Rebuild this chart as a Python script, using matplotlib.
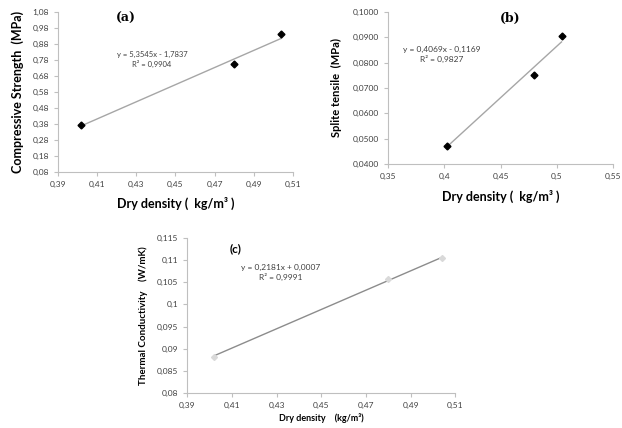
import numpy as np
import matplotlib.pyplot as plt

plt.rcParams['font.family'] = ['Lato', 'DejaVu Sans']

# dry density shared by the three tests
density = [0.402, 0.480, 0.504]

# (a) compressive strength
comp = [0.375, 0.755, 0.940]
comp_fit = (5.3545, -1.7837)
# (b) split tensile
tens = [0.0472, 0.0752, 0.0905]
tens_fit = (0.4069, -0.1169)
# (c) thermal conductivity
cond = [0.0880, 0.1058, 0.1105]
cond_fit = (0.2181, 0.0007)

axis_col = '#bfbfbf'
tick_col = '#404040'


def style(ax):
    for s in ['top', 'right']:
        ax.spines[s].set_visible(False)
    for s in ['left', 'bottom']:
        ax.spines[s].set_color(axis_col)
        ax.spines[s].set_linewidth(0.8)
    ax.tick_params(colors=axis_col, labelcolor=tick_col, labelsize=6, length=3, width=0.8)


def comma(fmt):
    return lambda v, p: (fmt % v).replace('.', ',')


fig = plt.figure(figsize=(6.22, 4.28), dpi=100)

# panel a
ax1 = fig.add_axes([0.093, 0.598, 0.378, 0.374])
xs = np.array([density[0], density[-1]])
ax1.plot(xs, comp_fit[0] * xs + comp_fit[1], color='#a6a6a6', lw=1)
ax1.plot(density, comp, 'D', color='black', ms=3.5)
ax1.set_xlim(0.39, 0.51)
ax1.set_ylim(0.08, 1.08)
ax1.set_xticks(np.arange(0.39, 0.5101, 0.02))
ax1.set_yticks(np.arange(0.08, 1.0801, 0.1))
ax1.xaxis.set_major_formatter(plt.FuncFormatter(comma('%.2f')))
ax1.yaxis.set_major_formatter(plt.FuncFormatter(comma('%.2f')))
style(ax1)
ax1.set_ylabel('Compressive Strength  (MPa)', fontsize=9, fontweight='bold', labelpad=6)
ax1.set_xlabel('Dry density (  kg/m³ )', fontsize=9, fontweight='bold', labelpad=6)
ax1.text(0.29, 0.96, '(a)', transform=ax1.transAxes, fontsize=9, fontweight='bold',
         family='DejaVu Serif', ha='center', va='center')
ax1.text(0.40, 0.705, 'y = 5,3545x - 1,7837\nR² = 0,9904', transform=ax1.transAxes,
         fontsize=5.5, color='#404040', ha='center', va='center', linespacing=1.3)

# panel b
ax2 = fig.add_axes([0.624, 0.617, 0.362, 0.355])
ax2.plot(xs, tens_fit[0] * xs + tens_fit[1], color='#a6a6a6', lw=1)
ax2.plot(density, tens, 'D', color='black', ms=3.5)
ax2.set_xlim(0.35, 0.55)
ax2.set_ylim(0.04, 0.10)
ax2.set_xticks([0.35, 0.40, 0.45, 0.50, 0.55])
ax2.set_xticklabels(['0,35', '0,4', '0,45', '0,5', '0,55'])
ax2.set_yticks(np.arange(0.04, 0.1001, 0.01))
ax2.yaxis.set_major_formatter(plt.FuncFormatter(comma('%.4f')))
style(ax2)
ax2.set_ylabel('Splite tensile  (MPa)', fontsize=8, fontweight='bold', labelpad=8)
ax2.set_xlabel('Dry density (  kg/m³ )', fontsize=9, fontweight='bold', labelpad=7)
ax2.text(0.54, 0.955, '(b)', transform=ax2.transAxes, fontsize=9, fontweight='bold',
         family='DejaVu Serif', ha='center', va='center')
ax2.text(0.24, 0.72, 'y = 0,4069x - 0,1169\nR² = 0,9827', transform=ax2.transAxes,
         fontsize=6, color='#404040', ha='center', va='center', linespacing=1.3)

# panel c
ax3 = fig.add_axes([0.301, 0.082, 0.431, 0.362])
ax3.plot(xs, cond_fit[0] * xs + cond_fit[1], color='#8c8c8c', lw=1)
ax3.plot(density, cond, 'D', color='#d9d9d9', ms=3)
ax3.set_xlim(0.39, 0.51)
ax3.set_ylim(0.08, 0.115)
ax3.set_xticks(np.arange(0.39, 0.5101, 0.02))
ax3.set_yticks([0.08, 0.085, 0.09, 0.095, 0.10, 0.105, 0.11, 0.115])
ax3.set_yticklabels(['0,08', '0,085', '0,09', '0,095', '0,1', '0,105', '0,11', '0,115'])
ax3.xaxis.set_major_formatter(plt.FuncFormatter(comma('%.2f')))
style(ax3)
ax3.set_ylabel('Thermal Conductivity    (W/mK)', fontsize=7, fontweight='bold', labelpad=6)
ax3.set_xlabel('Dry density    (kg/m³)', fontsize=6.5, fontweight='bold', labelpad=3)
ax3.text(0.18, 0.93, '(c)', transform=ax3.transAxes, fontsize=8.5, fontweight='bold',
         ha='center', va='center')
ax3.text(0.35, 0.78, 'y = 0,2181x + 0,0007\nR² = 0,9991', transform=ax3.transAxes,
         fontsize=6, color='#404040', ha='center', va='center', linespacing=1.3)

fig.savefig('out.png', dpi=100)
